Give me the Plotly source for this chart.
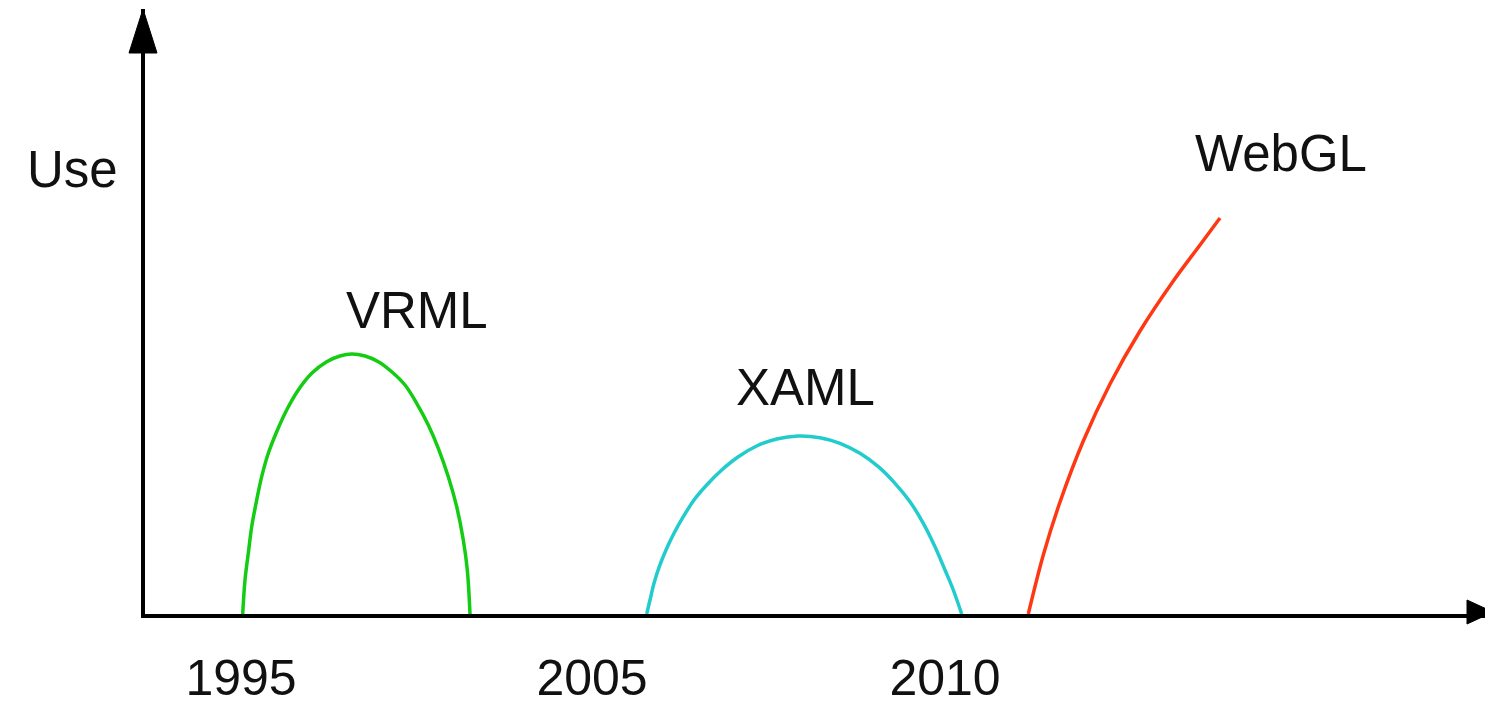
import plotly.graph_objects as go

# ---- data (abstract time units on x, "use" on y) ----
tick_pos = [9.6, 44.7, 80.0]
tick_text = ["1995", "2005", "2010"]

vrml_x = [9.77, 10.0, 10.33, 10.67, 11.17, 11.67, 12.33, 13.17, 14.17, 15.33, 16.67, 18.17, 19.5,
          20.67, 22.0, 23.33, 24.67, 26.0, 27.17, 28.33, 29.33, 30.33, 31.17, 31.83, 32.23, 32.5]
vrml_y = [0.0, 3.4, 6.07, 8.73, 11.4, 13.73, 16.07, 18.23, 20.4, 22.4, 24.07, 25.23, 25.8,
          26.0, 25.8, 25.23, 24.23, 22.9, 21.07, 18.9, 16.57, 13.73, 10.73, 7.4, 4.4, 0.0]

xaml_x = [50.17, 50.5, 50.9, 51.43, 52.1, 52.9, 53.83, 54.9, 56.17, 57.67, 59.33, 61.17, 63.17,
          65.33, 67.5, 69.5, 71.5, 73.33, 75.0, 76.5, 77.83, 79.0, 80.0, 80.83, 81.67]
xaml_y = [0.0, 1.4, 3.07, 4.73, 6.4, 8.07, 9.73, 11.4, 12.9, 14.4, 15.73, 16.8, 17.5,
          17.8, 17.63, 17.07, 16.07, 14.73, 13.07, 11.23, 9.07, 6.73, 4.4, 2.4, 0.0]

webgl_x = [88.33, 89.83, 91.5, 93.83, 96.5, 99.5, 102.83, 105.5, 107.5]
webgl_y = [0.0, 5.9, 11.2, 17.3, 23.0, 28.3, 33.3, 36.9, 39.6]

series_names = ["VRML", "XAML", "WebGL"]
series_colors = ["#14cc14", "#22cccc", "#ff3814"]
label_x = [27.2, 66.0, 113.6]
label_y = [30.4, 22.7, 46.1]

axis_title = "Use"
axis_title_pos = (-0.054, 0.734)   # paper coords, left of the y axis

X_MAX = 134.8
Y_MAX = 60.5
FONT = "Liberation Sans, Arial, Helvetica, sans-serif"

fig = go.Figure()
for name, xs, ys, col in zip(series_names, [vrml_x, xaml_x, webgl_x],
                             [vrml_y, xaml_y, webgl_y], series_colors):
    fig.add_trace(go.Scatter(x=xs, y=ys, mode="lines", name=name,
                             line=dict(color=col, width=3.5, shape="spline", smoothing=1.0),
                             showlegend=False, hoverinfo="skip"))

for name, lx, ly in zip(series_names, label_x, label_y):
    fig.add_annotation(x=lx, y=ly, xref="x", yref="y", text=name, showarrow=False,
                       font=dict(family=FONT, size=51, color="#111111"),
                       xanchor="center", yanchor="middle")

fig.add_annotation(x=axis_title_pos[0], y=axis_title_pos[1], xref="paper", yref="paper",
                   text=axis_title, showarrow=False,
                   font=dict(family=FONT, size=51, color="#111111"),
                   xanchor="center", yanchor="middle")

# axis arrowheads (paper-anchored so they are not clipped)
fig.add_shape(type="path", xref="paper", yref="paper", xsizemode="pixel", ysizemode="pixel",
              xanchor=0, yanchor=1, path="M -16 -44 L 12 -44 L -2 0 Z",
              fillcolor="black", line=dict(color="black", width=1))
fig.add_shape(type="path", xref="paper", yref="paper", xsizemode="pixel", ysizemode="pixel",
              xanchor=1, yanchor=0, path="M -26 -10 L -26 14 L 0 2 Z",
              fillcolor="black", line=dict(color="black", width=1))

# the page body has an 8px margin, so the figure is 8px smaller and margins shifted
fig.update_layout(
    width=1485, height=700,
    margin=dict(l=137, r=0, t=1, b=94),
    paper_bgcolor="white", plot_bgcolor="white",
    showlegend=False,
)
fig.update_xaxes(range=[0, X_MAX], showgrid=False, zeroline=False, automargin=False,
                 showline=True, linecolor="black", linewidth=4,
                 tickvals=tick_pos, ticktext=tick_text, ticks="",
                 ticklabelstandoff=17,
                 tickfont=dict(family=FONT, size=50, color="#111111"))
fig.update_yaxes(range=[0, Y_MAX], showgrid=False, zeroline=False, automargin=False,
                 showline=True, linecolor="black", linewidth=4,
                 showticklabels=False, ticks="")

fig.write_html("out.html")
